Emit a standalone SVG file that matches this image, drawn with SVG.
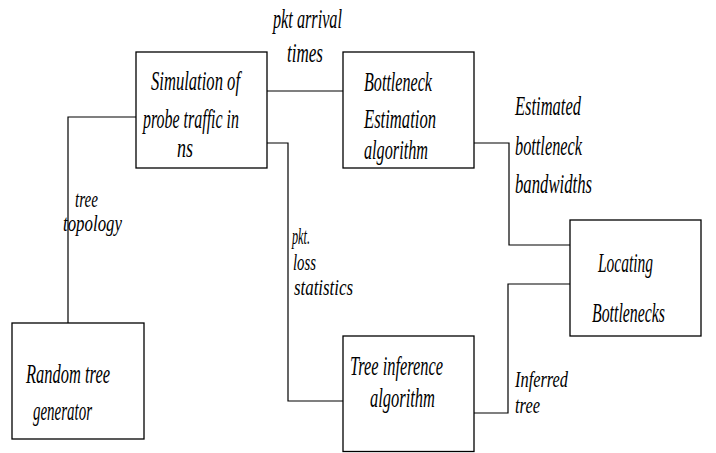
<svg xmlns="http://www.w3.org/2000/svg" width="716" height="453" viewBox="0 0 716 453">
<style>
.box{fill:#fff;stroke:#000;stroke-width:1.3}
.ln{fill:none;stroke:#000;stroke-width:1.2}
text{font-family:"Liberation Serif","Times New Roman",serif;font-style:italic;font-size:28px;fill:#000}
text.t{font-size:24px}
</style>
<rect width="716" height="453" fill="#fff"/>
<g id="connectors">
<polyline class="ln" points="267,91 343,91"/>
<polyline class="ln" points="136,117 68,117 68,323"/>
<polyline class="ln" points="267,143 288,143 288,401 343,401"/>
<polyline class="ln" points="474,143 509,143 509,245 570,245"/>
<polyline class="ln" points="474,413 508,413 508,284 570,284"/>
</g>
<g id="labels">
<text x="273" y="28" textLength="69" lengthAdjust="spacingAndGlyphs">pkt arrival</text>
<text x="287" y="62" textLength="36" lengthAdjust="spacingAndGlyphs">times</text>
<text x="515" y="115" textLength="66" lengthAdjust="spacingAndGlyphs">Estimated</text>
<text x="515" y="155" textLength="67" lengthAdjust="spacingAndGlyphs">bottleneck</text>
<text x="515" y="193" textLength="77" lengthAdjust="spacingAndGlyphs">bandwidths</text>
<text class="t" x="75" y="207" textLength="23" lengthAdjust="spacingAndGlyphs">tree</text>
<text class="t" x="63" y="231" textLength="59" lengthAdjust="spacingAndGlyphs">topology</text>
<text class="t" x="292" y="244" textLength="18" lengthAdjust="spacingAndGlyphs">pkt.</text>
<text class="t" x="293" y="270" textLength="23" lengthAdjust="spacingAndGlyphs">loss</text>
<text class="t" x="294" y="295" textLength="59" lengthAdjust="spacingAndGlyphs">statistics</text>
<text class="t" x="515" y="387" textLength="53" lengthAdjust="spacingAndGlyphs">Inferred</text>
<text class="t" x="515" y="413" textLength="25" lengthAdjust="spacingAndGlyphs">tree</text>
</g>
<g id="sim">
<rect class="box" x="136" y="52" width="131" height="116"/>
<text x="151" y="90" textLength="89" lengthAdjust="spacingAndGlyphs">Simulation of</text>
<text x="143" y="128" textLength="96" lengthAdjust="spacingAndGlyphs">probe traffic in</text>
<text x="177" y="157" textLength="16" lengthAdjust="spacingAndGlyphs">ns</text>
</g>
<g id="bottleneck">
<rect class="box" x="343" y="52" width="131" height="116"/>
<text x="364" y="91" textLength="68" lengthAdjust="spacingAndGlyphs">Bottleneck</text>
<text x="364" y="128" textLength="72" lengthAdjust="spacingAndGlyphs">Estimation</text>
<text x="364" y="159" textLength="64" lengthAdjust="spacingAndGlyphs">algorithm</text>
</g>
<g id="locating">
<rect class="box" x="570" y="220" width="131" height="116"/>
<text x="598" y="272" textLength="55" lengthAdjust="spacingAndGlyphs">Locating</text>
<text x="592" y="322" textLength="73" lengthAdjust="spacingAndGlyphs">Bottlenecks</text>
</g>
<g id="random">
<rect class="box" x="12" y="323" width="132" height="116"/>
<text x="26" y="383" textLength="84" lengthAdjust="spacingAndGlyphs">Random tree</text>
<text x="33" y="420" textLength="59" lengthAdjust="spacingAndGlyphs">generator</text>
</g>
<g id="treeinf">
<rect class="box" x="343" y="336" width="131" height="115.5"/>
<text x="350" y="375" textLength="93" lengthAdjust="spacingAndGlyphs">Tree inference</text>
<text x="370" y="407" textLength="65" lengthAdjust="spacingAndGlyphs">algorithm</text>
</g>
</svg>
